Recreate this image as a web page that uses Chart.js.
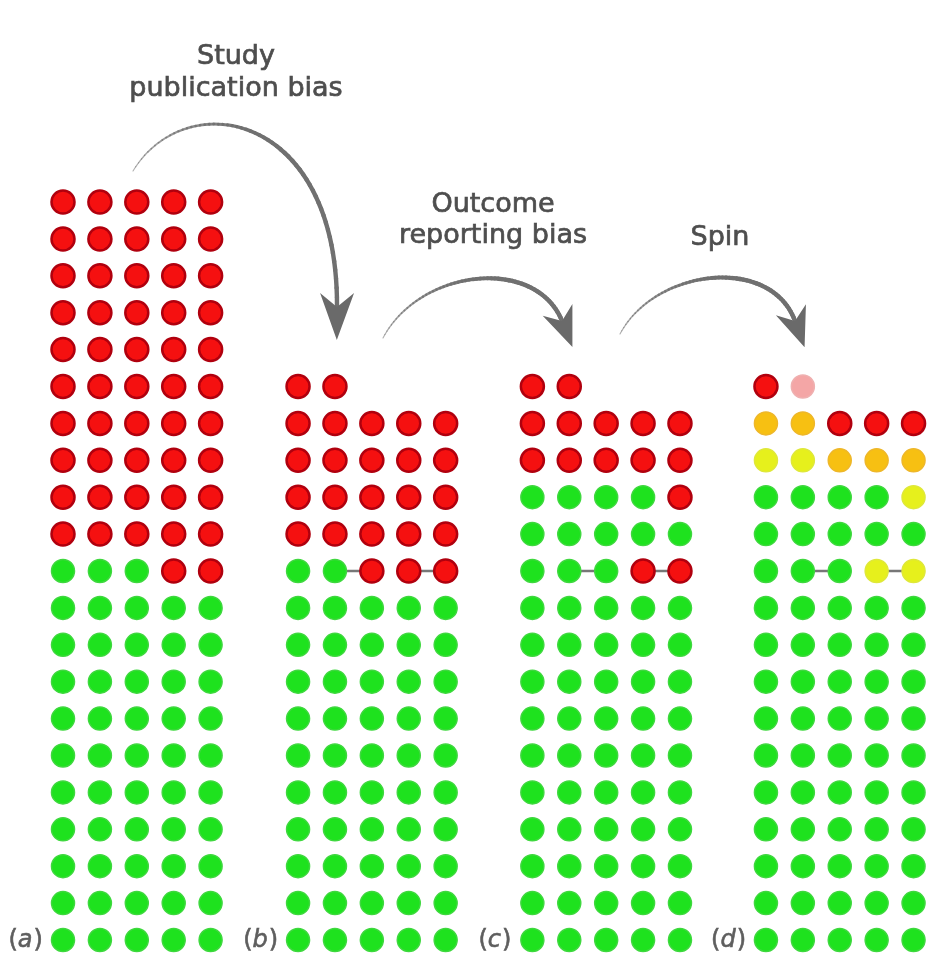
<!DOCTYPE html>
<html>
<head>
<meta charset="utf-8">
<script src="https://cdn.jsdelivr.net/npm/chart.js@4.4.1/dist/chart.umd.min.js"></script>
<style>
  html, body { margin: 0; padding: 0; background: #ffffff; }
  #wrap { width: 927px; height: 954px; position: relative; }
</style>
</head>
<body>
<div id="wrap"><canvas id="c"></canvas></div>
<script>
// ---- DATA ----
// Trial outcome codes: G = positive, R = negative, O = negative (spin, partial),
// Y = negative (spin, reported positive), P = negative (unclear)
const categories = ['G', 'R', 'O', 'Y', 'P'];
const categoryNames = ['Positive', 'Negative', 'Negative (partial spin)', 'Negative (spin)', 'Negative (unclear)'];
const panelLabels = ['a', 'b', 'c', 'd'];

// rows listed top to bottom, 5 trials per row
const rowsA = [
  'RRRRR','RRRRR','RRRRR','RRRRR','RRRRR',
  'RRRRR','RRRRR','RRRRR','RRRRR','RRRRR',
  'GGGRR',
  'GGGGG','GGGGG','GGGGG','GGGGG','GGGGG',
  'GGGGG','GGGGG','GGGGG','GGGGG','GGGGG'
];
const rowsB = [
  'RR',
  'RRRRR','RRRRR','RRRRR','RRRRR',
  'GGRRR',
  'GGGGG','GGGGG','GGGGG','GGGGG','GGGGG',
  'GGGGG','GGGGG','GGGGG','GGGGG','GGGGG'
];
const rowsC = [
  'RR',
  'RRRRR','RRRRR',
  'GGGGR',
  'GGGGG',
  'GGGRR',
  'GGGGG','GGGGG','GGGGG','GGGGG','GGGGG',
  'GGGGG','GGGGG','GGGGG','GGGGG','GGGGG'
];
const rowsD = [
  'RP',
  'OORRR',
  'YYOOO',
  'GGGGY',
  'GGGGG',
  'GGGYY',
  'GGGGG','GGGGG','GGGGG','GGGGG','GGGGG',
  'GGGGG','GGGGG','GGGGG','GGGGG','GGGGG'
];
// linked trial pairs: [row from bottom, column, column]
const linksA = [];
const linksB = [[10, 1, 2], [10, 3, 4]];
const linksC = [[10, 1, 2], [10, 3, 4]];
const linksD = [[10, 1, 2], [10, 3, 4]];

const biasLabels = [['Study', 'publication bias'], ['Outcome', 'reporting bias'], ['Spin']];

// ---- LAYOUT / STYLE ----
const panelOffset = [0, 6.37, 12.72, 19.05];
const fills   = { G: '#1ee21e', R: '#f51010', O: '#f7c012', Y: '#e6f01c', P: '#f4a6a6' };
const borders = { G: '#3fd83f', R: '#b0000e', O: '#eeb72a', Y: '#dfe83a', P: '#efb0b0' };
const borderW = { G: 1.5, R: 2.5, O: 1.5, Y: 1.5, P: 1.5 };

const allRows = [rowsA, rowsB, rowsC, rowsD];
const allLinks = [linksA, linksB, linksC, linksD];

const datasets = [];
categories.forEach((cat, ci) => {
  const pts = [];
  allRows.forEach((rows, p) => {
    rows.forEach((row, i) => {
      const r = rows.length - 1 - i;
      for (let c = 0; c < row.length; c++) {
        if (row[c] === cat) pts.push({ x: panelOffset[p] + c, y: r });
      }
    });
  });
  datasets.push({
    label: categoryNames[ci],
    data: pts,
    pointRadius: 11.5,
    pointHoverRadius: 11.5,
    backgroundColor: fills[cat],
    borderColor: borders[cat],
    borderWidth: borderW[cat],
    pointBackgroundColor: fills[cat],
    pointBorderColor: borders[cat],
    pointBorderWidth: borderW[cat],
    showLine: false,
    clip: false,
    order: 0
  });
});
allLinks.forEach((links, p) => {
  links.forEach(([r, c1, c2]) => {
    datasets.push({
      label: 'link',
      data: [{ x: panelOffset[p] + c1, y: r }, { x: panelOffset[p] + c2, y: r }],
      showLine: true,
      borderColor: '#777777',
      borderWidth: 2.5,
      pointRadius: 0,
      clip: false,
      order: 10
    });
  });
});

function bez(p0, p1, p2, p3, t) {
  const u = 1 - t;
  return [
    u*u*u*p0[0] + 3*u*u*t*p1[0] + 3*u*t*t*p2[0] + t*t*t*p3[0],
    u*u*u*p0[1] + 3*u*u*t*p1[1] + 3*u*t*t*p2[1] + t*t*t*p3[1]
  ];
}
function drawArrow(ctx, p0, p1, p2, p3, headLen, back, halfW) {
  const N = 60;
  ctx.save();
  ctx.strokeStyle = '#707070';
  ctx.fillStyle = '#6a6a6a';
  ctx.lineCap = 'round';
  let prev = bez(p0, p1, p2, p3, 0);
  for (let i = 1; i <= N; i++) {
    const t = i / N;
    const pt = bez(p0, p1, p2, p3, t);
    ctx.lineWidth = 1 + 3.4 * Math.min(1, t * 1.6);
    ctx.globalAlpha = 0.55 + 0.45 * Math.min(1, t * 2);
    ctx.beginPath();
    ctx.moveTo(prev[0], prev[1]);
    ctx.lineTo(pt[0], pt[1]);
    ctx.stroke();
    prev = pt;
  }
  ctx.globalAlpha = 1;
  let dx = p3[0] - p2[0], dy = p3[1] - p2[1];
  const L = Math.hypot(dx, dy); dx /= L; dy /= L;
  const nx = -dy, ny = dx;
  const tip = [p3[0] + dx * headLen, p3[1] + dy * headLen];
  const w1 = [p3[0] - dx * back + nx * halfW, p3[1] - dy * back + ny * halfW];
  const w2 = [p3[0] - dx * back - nx * halfW, p3[1] - dy * back - ny * halfW];
  ctx.beginPath();
  ctx.moveTo(tip[0], tip[1]);
  ctx.lineTo(w1[0], w1[1]);
  ctx.lineTo(p3[0], p3[1]);
  ctx.lineTo(w2[0], w2[1]);
  ctx.closePath();
  ctx.fill();
  ctx.restore();
}

const decorPlugin = {
  id: 'decor',
  afterDraw(chart) {
    const ctx = chart.ctx;
    const xs = chart.scales.x, ys = chart.scales.y;
    // bias titles
    ctx.save();
    ctx.fillStyle = '#4e4e4e';
    ctx.strokeStyle = '#4e4e4e';
    ctx.lineWidth = 0.7;
    ctx.textAlign = 'center';
    ctx.textBaseline = 'alphabetic';
    ctx.font = '27px "DejaVu Sans"';
    const titlePos = [[236, 64, 32], [493, 212, 31], [720, 245, 31]];
    biasLabels.forEach((lines, i) => {
      const [cx, by, lh] = titlePos[i];
      lines.forEach((ln, j) => {
        ctx.fillText(ln, cx, by + j * lh);
        ctx.strokeText(ln, cx, by + j * lh);
      });
    });
    ctx.restore();
    // arrows
    drawArrow(ctx, [133, 171], [185, 85], [338, 110], [337, 307], 33, 14, 17);
    drawArrow(ctx, [383, 338], [420, 268], [536, 256], [562, 321], 28, 12, 16);
    drawArrow(ctx, [620, 334], [655, 268], [771, 255], [795, 321], 28, 12, 16);
    // panel labels
    ctx.save();
    ctx.fillStyle = '#5e5e5e';
    ctx.strokeStyle = '#5e5e5e';
    ctx.lineWidth = 0.6;
    ctx.textBaseline = 'middle';
    ctx.textAlign = 'left';
    const f = '24px "DejaVu Sans"', fi = 'italic 24px "DejaVu Sans"';
    panelLabels.forEach((lab, p) => {
      const cx = xs.getPixelForValue(panelOffset[p] - 1);
      const cy = ys.getPixelForValue(0) + 1;
      ctx.font = f;
      const wp = ctx.measureText('(').width;
      const wc = ctx.measureText(')').width;
      ctx.font = fi;
      const wl = ctx.measureText(lab).width;
      const x0 = cx - (wp + wl + wc) / 2 - 1;
      const parts = [['(', f, x0], [lab, fi, x0 + wp], [')', f, x0 + wp + wl + 1]];
      parts.forEach(([s, font, x]) => {
        ctx.font = font;
        ctx.fillText(s, x, cy);
        ctx.strokeText(s, x, cy);
      });
    });
    ctx.restore();
  }
};

const colPx = 36.9;
new Chart(document.getElementById('c'), {
  type: 'scatter',
  data: { datasets },
  options: {
    responsive: true,
    maintainAspectRatio: false,
    animation: false,
    layout: { padding: 0, autoPadding: false },
    plugins: { legend: { display: false }, tooltip: { enabled: false } },
    scales: {
      x: { type: 'linear', display: false, bounds: 'data', min: -63 / colPx, max: (927 - 63) / colPx },
      y: { type: 'linear', display: false, bounds: 'data', min: -(954 - 940) / colPx, max: 940 / colPx }
    },
    events: []
  },
  plugins: [decorPlugin]
});
</script>
</body>
</html>
